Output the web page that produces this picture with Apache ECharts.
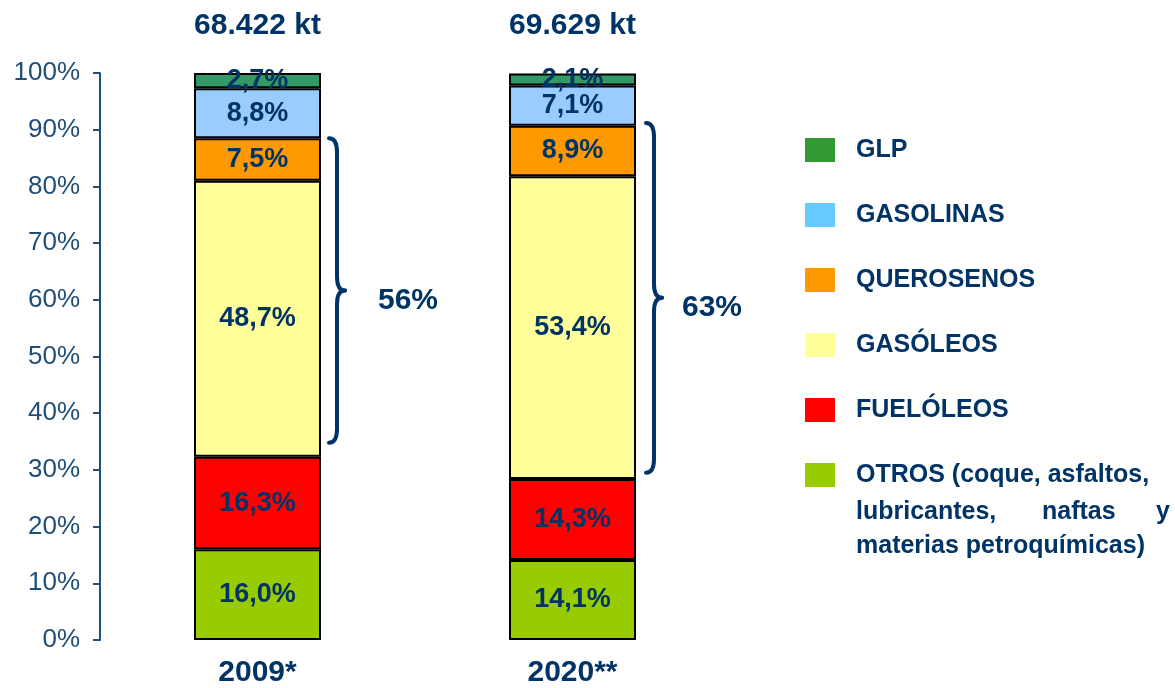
<!DOCTYPE html>
<html>
<head>
<meta charset="utf-8">
<script src="https://cdn.jsdelivr.net/npm/echarts@6/dist/echarts.min.js"></script>
<style>html,body{margin:0;padding:0;background:#fff}#main{width:1175px;height:688px}</style>
</head>
<body>
<div id="main"></div>
<script>
var years = ['2009*', '2020**'],
    totals = ['68.422 kt', '69.629 kt'],
    otros = [16.0, 14.1],
    fueloleos = [16.3, 14.3],
    gasoleos = [48.7, 53.4],
    querosenos = [7.5, 8.9],
    gasolinas = [8.8, 7.1],
    glp = [2.7, 2.1],
    braceTop = [88.5, 91.2],
    braceBottom = [34.8, 29.5],
    braceLabels = ['56%', '63%'];

var FONT = 'Arial, "Liberation Sans", sans-serif';
var NAVY = '#003366';

// bottom to top
var stack = [
    {name: 'OTROS', data: otros, color: '#99CC00', legend: '#99CC00'},
    {name: 'FUELÓLEOS', data: fueloleos, color: '#FF0000', legend: '#FF0000'},
    {name: 'GASÓLEOS', data: gasoleos, color: '#FFFF99', legend: '#FFFF99'},
    {name: 'QUEROSENOS', data: querosenos, color: '#FF9900', legend: '#FF9900'},
    {name: 'GASOLINAS', data: gasolinas, color: '#99CCFF', legend: '#66CCFF'},
    {name: 'GLP', data: glp, color: '#339966', legend: '#339933'}
];

var series = stack.map(function (s) {
    return {
        name: s.name,
        type: 'bar',
        stack: 'total',
        barWidth: 127,
        data: s.data,
        itemStyle: {color: s.color, borderColor: '#000', borderWidth: 2},
        label: {
            show: true,
            position: 'inside',
            color: NAVY,
            fontFamily: FONT,
            fontWeight: 'bold',
            fontSize: 27,
            formatter: function (p) { return p.value.toFixed(1).replace('.', ',') + '%'; }
        }
    };
});

var legendData = stack.slice().reverse().map(function (s) {
    return {name: s.name, itemStyle: {color: s.legend, borderWidth: 0}};
});

var chart = echarts.init(document.getElementById('main'));
chart.setOption({
    animation: false,
    grid: {left: 100, right: 445, top: 73, bottom: 47.5},
    legend: {
        orient: 'vertical',
        left: 805,
        top: 137,
        padding: 0,
        itemWidth: 30,
        itemHeight: 24,
        itemGap: 39,
        icon: 'rect',
        selectedMode: false,
        data: legendData,
        formatter: function (name) {
            return name === 'OTROS' ? 'OTROS (coque, asfaltos,' : name;
        },
        textStyle: {
            color: NAVY, fontFamily: FONT, fontWeight: 'bold', fontSize: 25,
            lineHeight: 26, padding: [0, 0, 0, 16]
        }
    },
    xAxis: [{
        type: 'category',
        data: years,
        axisLine: {show: false},
        axisTick: {show: false},
        axisLabel: {color: NAVY, fontFamily: FONT, fontWeight: 'bold', fontSize: 30, margin: 18}
    }, {
        type: 'category',
        position: 'top',
        data: totals,
        axisLine: {show: false},
        axisTick: {show: false},
        axisLabel: {color: NAVY, fontFamily: FONT, fontWeight: 'bold', fontSize: 30, margin: 32}
    }],
    yAxis: {
        type: 'value',
        min: 0,
        max: 100,
        interval: 10,
        splitLine: {show: false},
        axisLine: {show: true, lineStyle: {color: '#1F4E79', width: 2}},
        axisTick: {show: true, length: 7, lineStyle: {color: '#1F4E79', width: 2}},
        axisLabel: {color: '#1F4E79', fontFamily: FONT, fontSize: 26, margin: 20, formatter: '{value}%'}
    },
    series: series
});

// curly brace: two hooks, two spines, the tip
function brace(x, yTop, yBot, tipY, w) {
    var xm = x + w / 2, r = 14, out = [];
    var st = {stroke: NAVY, lineWidth: 4, fill: 'none', lineCap: 'round'};
    out.push({type: 'bezierCurve', shape: {x1: x, y1: yTop, cpx1: xm, cpy1: yTop, x2: xm, y2: yTop + r}, style: st});
    out.push({type: 'line', shape: {x1: xm, y1: yTop + r, x2: xm, y2: tipY - r}, style: st});
    out.push({type: 'bezierCurve', shape: {x1: xm, y1: tipY - r, cpx1: xm, cpy1: tipY, x2: x + w, y2: tipY}, style: st});
    out.push({type: 'bezierCurve', shape: {x1: x + w, y1: tipY, cpx1: xm, cpy1: tipY, x2: xm, y2: tipY + r}, style: st});
    out.push({type: 'line', shape: {x1: xm, y1: tipY + r, x2: xm, y2: yBot - r}, style: st});
    out.push({type: 'bezierCurve', shape: {x1: xm, y1: yBot - r, cpx1: xm, cpy1: yBot, x2: x, y2: yBot}, style: st});
    return out;
}

var braceGap = [8, 10], labelGap = [49, 36];
var graphics = [];
years.forEach(function (y, i) {
    var cx = chart.convertToPixel({xAxisIndex: 0}, y);
    var top = chart.convertToPixel({yAxisIndex: 0}, braceTop[i]);
    var bot = chart.convertToPixel({yAxisIndex: 0}, braceBottom[i]);
    var x0 = cx + 63.5 + braceGap[i];
    var tip = (top + bot) / 2;
    graphics = graphics.concat(brace(x0, top, bot, tip, 16));
    graphics.push({
        type: 'text',
        x: x0 + labelGap[i],
        y: tip + 10,
        style: {text: braceLabels[i], fill: NAVY, font: 'bold 30px ' + FONT, verticalAlign: 'middle'}
    });
});

// remaining lines of the OTROS legend entry
var legFont = 'bold 25px ' + FONT;
graphics.push(
    {type: 'text', x: 856, y: 512, style: {text: 'lubricantes,', fill: NAVY, font: legFont, verticalAlign: 'middle'}},
    {type: 'text', x: 1042, y: 512, style: {text: 'naftas', fill: NAVY, font: legFont, verticalAlign: 'middle'}},
    {type: 'text', x: 1170, y: 512, style: {text: 'y', fill: NAVY, font: legFont, align: 'right', verticalAlign: 'middle'}},
    {type: 'text', x: 856, y: 546, style: {text: 'materias petroquímicas)', fill: NAVY, font: legFont, verticalAlign: 'middle'}}
);
chart.setOption({graphic: graphics});
</script>
</body>
</html>
